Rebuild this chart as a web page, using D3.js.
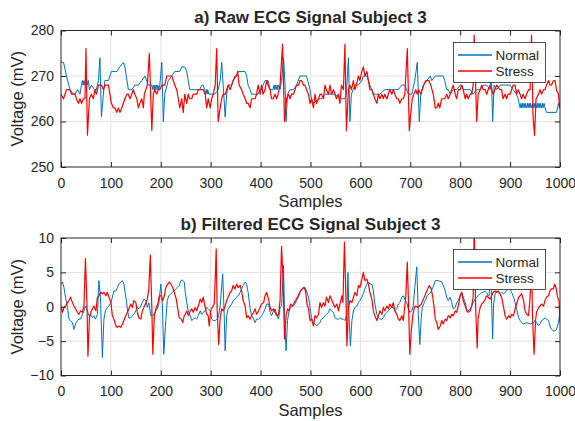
<!DOCTYPE html>
<html>
<head>
<meta charset="utf-8">
<script src="https://cdn.jsdelivr.net/npm/d3@7"></script>
<style>
  body { margin: 0; background: #fff; }
  svg text { font-family: "Liberation Sans", Arial, Helvetica, sans-serif; fill: #262626; }
</style>
</head>
<body>
<svg id="chart" width="575" height="421"></svg>
<script>
// ECG recordings, subject 3: [sample index, voltage in mV]
const rawNormal = [[0,273],[5,273],[11,270],[18,267],[25,266],[28,266],[33,267],[38,266],[41,268],[43,269],[44,268],[46,269],[47,268],[49,269],[50,268],[52,269],[53,268],[55,269],[57,267],[61,268],[67,267],[71,267],[75,269],[78,274],[81,261],[85,266],[88,269],[95,269],[101,271],[112,271],[118,272],[125,273],[128,272],[135,267],[142,267],[148,268],[155,268],[162,269],[168,270],[175,268],[182,268],[184,267],[185,268],[187,267],[188,268],[190,267],[191,268],[193,267],[194,268],[196,267],[198,268],[202,273],[205,260],[208,266],[215,269],[222,270],[228,271],[238,271],[242,272],[248,272],[252,271],[255,269],[258,267],[262,267],[268,267],[278,267],[282,268],[285,268],[288,267],[290,266],[291,267],[293,266],[294,267],[296,266],[298,266],[308,266],[315,267],[319,269],[322,273],[325,268],[329,261],[332,266],[335,268],[342,268],[345,269],[352,270],[355,271],[369,271],[372,270],[375,268],[379,267],[382,266],[395,266],[399,267],[402,267],[405,268],[409,269],[415,269],[419,267],[425,267],[427,268],[428,267],[430,268],[431,267],[433,268],[434,267],[436,268],[439,267],[442,269],[446,274],[449,268],[451,260],[454,266],[459,267],[466,267],[472,268],[479,270],[486,270],[492,270],[499,267],[502,265],[506,264],[516,265],[522,265],[529,266],[536,266],[542,266],[549,266],[562,265],[569,265],[572,266],[576,274],[579,260],[582,266],[589,268],[596,268],[603,269],[606,270],[613,270],[616,269],[619,268],[623,267],[626,266],[633,266],[639,266],[649,267],[659,267],[669,267],[676,267],[683,268],[689,268],[696,266],[703,266],[709,269],[714,273],[718,260],[721,266],[726,268],[733,269],[740,270],[743,269],[750,270],[756,270],[766,270],[769,269],[773,267],[776,267],[780,266],[786,267],[790,267],[793,267],[800,268],[803,268],[806,267],[813,267],[820,267],[826,266],[833,267],[840,267],[846,268],[853,268],[860,267],[862,273],[865,260],[868,268],[873,267],[880,268],[886,268],[893,268],[900,268],[906,267],[913,266],[916,265],[920,263],[922,264],[923,263],[925,264],[926,263],[928,264],[930,263],[931,264],[933,263],[935,264],[936,263],[938,264],[940,263],[941,264],[943,263],[945,264],[946,263],[948,264],[950,263],[951,264],[953,263],[955,264],[956,263],[958,264],[960,263],[961,264],[963,263],[965,264],[966,263],[968,264],[970,263],[973,262],[980,262],[990,262],[993,262],[997,264],[1000,263]];

const rawStress = [[0,266],[5,265],[8,266],[11,267],[18,267],[21,266],[25,266],[28,266],[31,265],[35,264],[38,265],[41,264],[45,265],[48,265],[50,276],[53,257],[57,265],[61,266],[65,265],[68,267],[71,266],[75,268],[81,268],[85,267],[88,268],[95,268],[98,266],[101,264],[105,263],[108,263],[112,262],[115,263],[118,262],[122,263],[125,264],[128,265],[132,266],[135,266],[138,265],[142,266],[145,267],[148,266],[152,265],[155,263],[158,264],[162,265],[165,263],[167,266],[170,267],[173,268],[177,275],[182,258],[185,266],[188,267],[192,266],[195,267],[198,267],[202,268],[208,268],[212,270],[222,270],[225,269],[228,268],[232,267],[235,265],[238,263],[242,265],[245,262],[248,266],[252,264],[255,266],[258,265],[262,265],[265,266],[268,266],[272,266],[275,267],[278,267],[282,267],[285,267],[289,266],[292,263],[295,265],[299,263],[302,265],[305,266],[309,268],[312,276],[315,260],[319,263],[322,265],[325,266],[329,266],[332,267],[335,268],[339,267],[342,268],[345,269],[349,270],[352,270],[354,271],[357,268],[362,267],[365,266],[369,265],[372,264],[375,264],[379,263],[382,265],[385,265],[389,265],[392,266],[395,268],[399,266],[402,268],[405,266],[409,267],[412,269],[415,268],[419,267],[422,265],[425,265],[429,266],[432,265],[435,266],[439,268],[444,277],[448,260],[452,265],[456,266],[459,265],[462,266],[466,266],[469,267],[472,268],[476,268],[479,269],[482,269],[486,268],[489,268],[492,267],[496,266],[499,264],[502,265],[506,263],[509,266],[512,264],[516,265],[519,266],[522,266],[526,265],[529,268],[532,267],[536,266],[539,268],[542,266],[546,267],[549,266],[552,265],[556,266],[559,264],[562,268],[566,267],[569,277],[572,258],[576,267],[579,268],[582,267],[586,269],[589,267],[592,268],[596,270],[599,269],[603,271],[606,272],[609,270],[613,271],[616,269],[619,267],[623,267],[626,266],[629,265],[633,264],[636,266],[639,265],[643,266],[646,265],[649,266],[653,265],[656,266],[659,267],[663,266],[666,267],[669,266],[673,265],[676,265],[679,264],[683,265],[686,265],[689,266],[694,276],[698,258],[701,262],[704,265],[707,266],[711,267],[714,266],[717,267],[721,266],[724,267],[727,268],[731,269],[734,269],[737,269],[741,268],[746,266],[750,263],[753,263],[756,264],[759,263],[763,265],[766,265],[769,265],[773,266],[776,265],[780,266],[783,267],[786,268],[790,266],[793,265],[796,267],[800,267],[803,268],[806,267],[810,265],[813,266],[816,265],[820,266],[823,266],[826,268],[828,279],[832,264],[833,260],[836,266],[840,267],[843,268],[846,267],[850,267],[853,266],[856,267],[860,268],[863,267],[866,266],[873,268],[880,267],[883,267],[886,265],[890,266],[893,265],[896,266],[900,266],[903,267],[906,268],[910,268],[913,266],[916,267],[920,266],[923,265],[926,266],[930,265],[933,266],[937,267],[940,267],[943,279],[946,261],[949,257],[952,265],[957,266],[960,267],[963,266],[967,267],[970,267],[973,268],[977,269],[980,268],[983,268],[987,269],[990,269],[993,267],[997,266],[999,263],[1000,264]];

const filtNormal = [[0,3.3],[3,3.6],[6,2.8],[9,1.4],[13,-0.1],[16,-1.8],[19,-2.0],[23,-2.3],[26,-3.3],[29,-2.5],[33,-2.0],[36,-1.8],[39,-1.8],[43,-1.1],[46,-0.6],[49,0.1],[53,-0.6],[56,-1.3],[59,-1.1],[63,-1.6],[66,-1.3],[69,-1.8],[73,-1.1],[76,3.8],[79,1.4],[83,-7.4],[86,-1.8],[89,-0.6],[93,-0.1],[96,0.1],[100,0.6],[103,1.4],[106,2.3],[110,2.3],[113,2.8],[116,3.3],[120,3.6],[123,3.8],[126,3.3],[130,1.4],[133,-0.3],[136,-1.6],[140,-1.6],[143,-1.3],[146,-1.1],[150,-0.6],[153,-0.1],[156,-0.3],[160,0.1],[163,0.6],[166,1.1],[170,0.9],[173,-0.1],[176,0.6],[180,-1.3],[183,-1.3],[186,-1.1],[190,-0.6],[193,-0.3],[196,0.4],[200,3.3],[203,0.4],[206,-6.9],[210,-2.0],[213,0.9],[216,1.6],[220,1.9],[223,2.1],[227,2.3],[230,2.6],[233,2.8],[237,3.1],[240,3.8],[243,3.9],[247,3.6],[249,2.1],[252,0.6],[255,-0.6],[259,-1.3],[262,-2.0],[265,-1.8],[269,-1.6],[272,-1.8],[275,-1.3],[279,-0.6],[282,-1.1],[285,-0.8],[289,-0.6],[292,-0.1],[295,-0.3],[299,-0.6],[302,-1.8],[305,-2.0],[309,-2.0],[312,-1.8],[315,-1.6],[319,0.1],[324,4.8],[327,-1.1],[329,-6.4],[332,-1.3],[335,-0.3],[339,0.1],[342,0.4],[345,0.9],[349,1.1],[352,1.4],[355,1.6],[359,2.1],[362,2.6],[365,3.1],[369,3.6],[372,3.3],[375,2.1],[379,-0.3],[382,-1.3],[386,-1.8],[389,-2.3],[392,-1.8],[396,-1.8],[399,-1.6],[402,-1.3],[406,-0.8],[409,-0.3],[412,0.4],[416,0.4],[419,-0.8],[422,-1.3],[426,-0.6],[429,-0.3],[432,-1.1],[436,-1.8],[439,-0.1],[442,0.1],[446,6.0],[448,-1.1],[451,-6.4],[454,-2.0],[457,-0.6],[460,-0.1],[466,0.1],[469,0.4],[472,0.9],[476,1.4],[479,2.1],[482,2.6],[486,2.8],[489,2.8],[492,2.3],[496,1.4],[499,-0.1],[502,-1.6],[506,-2.3],[509,-2.5],[512,-2.8],[516,-2.5],[519,-2.3],[522,-1.8],[526,-1.6],[529,-1.3],[532,-1.1],[536,-0.8],[539,-0.3],[542,-0.6],[546,-0.8],[549,-1.6],[553,-1.8],[556,-1.8],[559,-1.6],[563,-1.8],[566,-1.8],[569,-2.0],[573,-1.1],[575,5.0],[577,-1.1],[580,-5.7],[583,-2.0],[586,-0.6],[589,-0.1],[593,0.1],[596,0.6],[599,0.9],[603,1.4],[606,1.9],[609,2.6],[613,3.3],[616,3.6],[619,3.3],[623,3.3],[626,2.3],[629,0.4],[633,-1.1],[636,-1.6],[639,-1.8],[643,-1.8],[646,-1.6],[649,-1.1],[653,-0.8],[656,-0.6],[659,-0.3],[663,-0.1],[666,-0.1],[669,-0.6],[673,-0.3],[676,0.4],[679,0.6],[683,1.4],[686,1.6],[689,1.1],[693,0.6],[696,-0.3],[699,-0.8],[703,-0.6],[706,0.1],[709,2.8],[713,5.8],[716,-1.1],[719,-5.5],[722,-1.6],[724,-0.1],[728,0.6],[731,1.1],[734,1.6],[738,1.9],[741,2.1],[744,2.6],[748,3.3],[750,3.8],[756,3.8],[763,3.6],[766,3.1],[770,2.3],[773,1.4],[776,0.9],[780,1.4],[783,0.6],[786,-0.3],[790,-0.1],[793,0.6],[796,0.9],[800,1.6],[803,2.1],[806,1.4],[810,0.6],[813,-0.3],[816,-0.6],[820,-0.3],[823,0.1],[826,0.6],[830,1.1],[833,1.4],[836,1.6],[840,1.9],[843,2.1],[846,2.1],[850,2.3],[853,2.1],[856,1.6],[858,1.6],[861,5.8],[865,-4.7],[867,0.4],[870,1.9],[873,2.3],[876,2.1],[880,1.9],[883,2.1],[887,1.9],[890,2.1],[893,2.3],[897,2.8],[900,2.6],[903,2.1],[907,1.4],[910,0.6],[913,-0.3],[917,-1.6],[920,-2.0],[923,-2.3],[927,-2.5],[933,-2.3],[940,-2.5],[947,-2.3],[950,-2.0],[953,-2.3],[957,-2.8],[960,-2.5],[963,-2.0],[967,-1.8],[970,-1.6],[973,-1.8],[977,-2.0],[980,-2.8],[983,-3.3],[987,-3.5],[990,-3.5],[993,-3.3],[997,-2.3],[1000,-0.6]];

const filtStress = [[0,0.1],[3,-0.8],[6,-0.1],[9,0.1],[13,0.6],[16,0.9],[19,1.4],[23,0.6],[26,0.1],[29,-0.3],[33,-0.8],[36,-1.1],[39,-0.6],[43,-0.8],[46,0.1],[49,7.0],[52,0.4],[54,-7.2],[57,-1.6],[60,-0.8],[63,-0.3],[66,0.1],[70,-0.6],[73,1.4],[76,1.6],[80,2.1],[83,1.9],[86,2.1],[90,1.6],[93,2.1],[96,1.4],[100,0.6],[103,-1.3],[106,-1.8],[110,-2.8],[113,-3.0],[116,-2.8],[120,-3.0],[123,-2.5],[126,-2.0],[130,-1.3],[133,-0.8],[136,-0.3],[140,0.4],[143,-0.1],[146,0.9],[150,0.6],[153,-0.8],[156,-1.6],[160,-1.8],[163,-0.6],[166,-0.1],[170,0.6],[173,1.1],[176,2.6],[179,7.5],[182,-0.1],[184,-6.9],[187,-1.3],[190,-0.3],[194,0.4],[197,1.6],[200,1.6],[204,0.9],[207,1.6],[210,2.8],[214,3.3],[217,3.6],[220,3.3],[224,2.8],[227,2.1],[231,1.1],[234,-0.3],[237,-1.6],[241,-1.8],[244,-2.3],[247,-1.3],[249,-1.1],[252,-0.6],[255,-1.3],[259,-0.6],[262,-0.3],[265,-0.8],[269,-0.1],[272,-0.6],[275,0.1],[279,1.1],[282,0.6],[285,1.4],[289,-0.1],[292,-1.1],[295,-1.3],[297,-2.8],[300,-0.6],[303,-0.1],[307,0.4],[309,3.8],[311,8.4],[313,-0.6],[316,-5.5],[319,-1.6],[322,-0.3],[325,-0.6],[329,0.1],[332,0.9],[335,1.4],[339,2.1],[342,2.3],[345,3.1],[349,2.6],[352,3.3],[355,2.8],[359,3.1],[362,2.3],[365,0.9],[369,0.1],[372,-1.6],[375,-1.3],[379,-1.8],[382,-1.3],[386,-0.8],[389,-0.3],[392,-1.1],[396,-0.6],[399,-0.1],[402,0.4],[406,0.6],[409,1.6],[412,2.1],[416,1.1],[419,-0.1],[422,-0.6],[426,-0.3],[429,-0.8],[432,-1.3],[436,-1.1],[439,0.9],[442,8.8],[445,3.8],[448,-4.7],[451,-1.3],[454,-0.3],[457,-0.6],[460,0.4],[464,0.1],[467,0.6],[470,0.9],[474,1.4],[477,1.9],[480,2.3],[484,2.6],[487,2.8],[490,2.3],[493,0.4],[496,-0.3],[499,-2.0],[502,-1.8],[506,-2.8],[509,-1.3],[512,-1.6],[516,-1.1],[519,0.6],[522,-0.1],[526,0.6],[529,0.1],[532,1.4],[536,0.6],[539,1.6],[542,1.1],[546,0.4],[549,-0.1],[553,0.4],[556,-0.6],[559,0.4],[563,1.6],[565,0.6],[568,9.4],[571,1.4],[573,-5.7],[576,-0.1],[579,0.9],[583,0.6],[586,1.4],[589,2.1],[593,1.6],[596,3.1],[599,2.8],[603,4.0],[606,5.0],[609,3.8],[613,4.0],[616,3.3],[619,2.1],[623,1.1],[626,-0.6],[629,-1.3],[633,-2.0],[636,-1.3],[639,-0.6],[643,-1.1],[646,-0.1],[649,-0.6],[653,0.1],[656,-0.3],[659,0.4],[663,-0.1],[666,0.6],[669,-0.6],[673,-1.1],[676,-1.8],[679,-2.0],[683,-1.3],[686,-2.0],[689,0.1],[691,1.6],[694,6.5],[697,-1.1],[699,-6.9],[702,-3.5],[705,-1.3],[708,-0.1],[711,0.1],[715,-0.1],[718,0.1],[722,0.4],[725,0.9],[728,1.4],[732,2.1],[735,2.6],[738,3.1],[742,2.6],[745,1.4],[748,-0.3],[750,-1.8],[753,-2.3],[756,-3.3],[760,-2.8],[763,-2.0],[766,-2.5],[770,-1.8],[773,-2.0],[776,-1.3],[780,-1.6],[783,-1.1],[786,-1.3],[790,-0.6],[793,-0.8],[796,0.1],[800,1.6],[803,2.1],[806,0.9],[810,0.1],[813,-0.6],[816,-0.8],[820,-0.6],[823,0.1],[826,1.4],[828,11.5],[831,-0.1],[834,-6.0],[836,-1.6],[840,-0.1],[843,0.4],[846,0.6],[850,1.1],[853,1.6],[856,1.4],[860,1.1],[863,1.6],[866,2.1],[870,2.3],[873,2.1],[876,2.3],[883,1.4],[887,-0.1],[890,-1.3],[893,-1.8],[897,-1.3],[900,-1.6],[903,-1.1],[907,-1.3],[910,-0.3],[913,0.4],[917,1.4],[920,1.6],[923,1.9],[927,0.9],[930,-0.6],[933,-1.1],[937,-1.3],[940,1.4],[943,6.2],[945,-1.6],[948,-6.9],[951,-2.0],[953,-0.8],[957,-0.1],[960,0.1],[963,0.4],[967,0.1],[970,0.9],[973,1.4],[977,1.6],[980,2.3],[983,2.6],[987,2.6],[989,3.3],[992,2.8],[995,1.4],[998,0.9],[1000,-2.3]];

const sampleTicks = [0,100,200,300,400,500,600,700,800,900,1000];
const rawTicks = [250,260,270,280];
const filtTicks = [-10,-5,0,5,10];
const seriesNames = ["Normal","Stress"];
const seriesColors = ["#0072BD","#FF0000"];

const svg = d3.select("#chart");
const X0 = 61, X1 = 560;
const INK = "#262626";

function drawPanel(cfg) {
  const x = d3.scaleLinear().domain([0,1000]).range([X0,X1]);
  const y = d3.scaleLinear().domain(cfg.yDomain).range([cfg.bottom, cfg.top]);
  const g = svg.append("g");

  // grid
  g.append("g").selectAll("line").data(sampleTicks.slice(1,-1)).join("line")
    .attr("x1", d => x(d)).attr("x2", d => x(d))
    .attr("y1", cfg.top).attr("y2", cfg.bottom)
    .attr("stroke", "#e2e2e2").attr("stroke-width", 1);
  g.append("g").selectAll("line").data(cfg.yTicks.slice(1,-1)).join("line")
    .attr("x1", X0).attr("x2", X1)
    .attr("y1", d => y(d)).attr("y2", d => y(d))
    .attr("stroke", "#e2e2e2").attr("stroke-width", 1);

  // traces, clipped to the plot box
  const clipId = "clip" + cfg.id;
  svg.append("clipPath").attr("id", clipId).append("rect")
    .attr("x", X0).attr("y", cfg.top).attr("width", X1 - X0).attr("height", cfg.bottom - cfg.top);
  const line = d3.line().x(d => x(d[0])).y(d => y(d[1]));
  cfg.series.forEach((s, i) => {
    g.append("path").datum(s)
      .attr("clip-path", `url(#${clipId})`)
      .attr("fill", "none")
      .attr("stroke", seriesColors[i])
      .attr("stroke-width", i === 1 ? 1.2 : 1)
      .attr("stroke-linejoin", "round")
      .attr("d", line);
  });

  // axes with inward ticks on all four sides
  const styleAxis = sel => {
    sel.select(".domain").remove();
    sel.selectAll(".tick line").attr("stroke", INK);
    sel.selectAll("text").attr("fill", INK).style("font-size", "14px")
      .style("font-family", '"Liberation Sans", Arial, sans-serif');
  };
  g.append("g").attr("transform", `translate(0,${cfg.bottom})`)
    .call(d3.axisBottom(x).tickValues(sampleTicks).tickSize(-5).tickPadding(11).tickFormat(d3.format("d")))
    .call(styleAxis);
  g.append("g").attr("transform", `translate(0,${cfg.top})`)
    .call(d3.axisTop(x).tickValues(sampleTicks).tickSize(-5).tickFormat(""))
    .call(styleAxis);
  g.append("g").attr("transform", `translate(${X0},0)`)
    .call(d3.axisLeft(y).tickValues(cfg.yTicks).tickSize(-5).tickPadding(7).tickFormat(d3.format("d")))
    .call(styleAxis);
  g.append("g").attr("transform", `translate(${X1},0)`)
    .call(d3.axisRight(y).tickValues(cfg.yTicks).tickSize(-5).tickFormat(""))
    .call(styleAxis);

  g.append("rect").attr("x", X0).attr("y", cfg.top)
    .attr("width", X1 - X0).attr("height", cfg.bottom - cfg.top)
    .attr("fill", "none").attr("stroke", INK).attr("stroke-width", 1);

  // titles and axis labels
  g.append("text").attr("x", (X0 + X1) / 2).attr("y", cfg.top - 8)
    .attr("text-anchor", "middle").style("font-size", "17px").style("font-weight", "bold")
    .text(cfg.title);
  g.append("text").attr("x", (X0 + X1) / 2).attr("y", cfg.bottom + 40)
    .attr("text-anchor", "middle").style("font-size", "16.5px").text("Samples");
  g.append("text")
    .attr("transform", `translate(23,${(cfg.top + cfg.bottom) / 2}) rotate(-90)`)
    .attr("text-anchor", "middle").style("font-size", "16.5px").text("Voltage (mV)");

  // legend
  const ly = Math.round(cfg.top + 11) + 0.5;
  const lg = g.append("g").attr("transform", `translate(453.5,${ly})`);
  lg.append("rect").attr("x", 0).attr("y", 0).attr("width", 92).attr("height", 40)
    .attr("fill", "#ffffff").attr("stroke", INK).attr("stroke-width", 0.8);
  seriesNames.forEach((name, i) => {
    const ry = 12.5 + i * 16;
    lg.append("line").attr("x1", 4.5).attr("x2", 38.5).attr("y1", ry).attr("y2", ry)
      .style("stroke", seriesColors[i]).style("stroke-width", "1.3px");
    lg.append("text").attr("x", 42).attr("y", ry).attr("dy", "0.35em")
      .style("font-size", "13.5px").text(name);
  });
}

drawPanel({ id: "a", top: 30.5, bottom: 167, yDomain: [250,280], yTicks: rawTicks,
  title: "a) Raw ECG Signal Subject 3", series: [rawNormal, rawStress] });
drawPanel({ id: "b", top: 238, bottom: 375.5, yDomain: [-10,10], yTicks: filtTicks,
  title: "b) Filtered ECG Signal Subject 3", series: [filtNormal, filtStress] });
</script>
</body>
</html>
